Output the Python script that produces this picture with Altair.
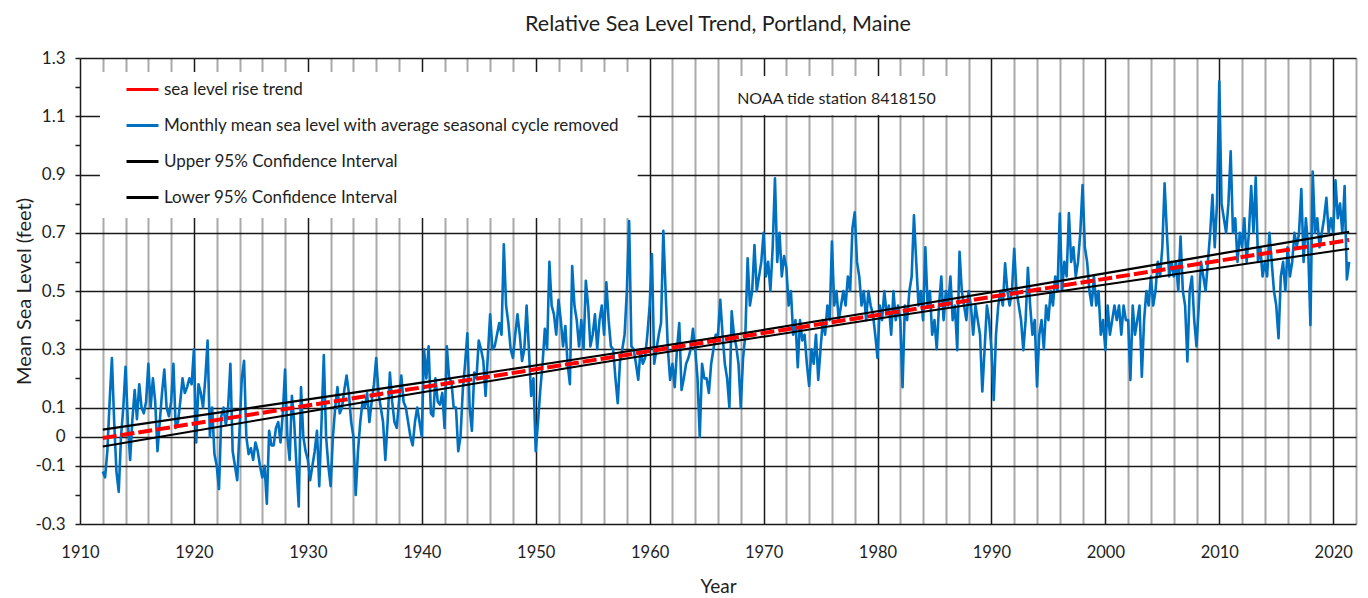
import altair as alt
import pandas as pd

# ---------------- data ----------------
# monthly mean sea level (seasonal cycle removed), sampled every 0.2 yr from 1912.0
level_1910s = [
    -0.12, -0.14, -0.05, 0.12, 0.27,
    0.05, -0.12, -0.19, 0.00, 0.10,
    0.24, 0.05, -0.08, 0.06, 0.16,
    0.06, 0.18, 0.10, 0.08, 0.12,
    0.25, 0.10, 0.20, 0.12, -0.05,
    0.05, 0.15, 0.23, 0.10, 0.07,
    0.12, 0.25, 0.03, 0.05, 0.12,
    0.20, 0.15, 0.17, 0.20, 0.18,
]
level_1920s = [
    0.30, -0.02, 0.18, 0.15, 0.10,
    0.20, 0.33, 0.00, 0.10, -0.06,
    -0.10, -0.18, 0.07, 0.10, 0.04,
    0.10, 0.25, -0.05, -0.10, -0.15,
    0.02, 0.20, 0.26, 0.00, -0.06,
    -0.04, -0.08, -0.02, -0.05, -0.10,
    -0.14, -0.10, -0.23, 0.02, -0.03,
    -0.03, 0.03, 0.05, -0.02, 0.08,
    0.23, 0.00, -0.08, 0.14, 0.05,
    -0.10, -0.24, 0.17, 0.00, -0.05,
]
level_1930s = [
    -0.08, -0.15, -0.10, -0.05, 0.02,
    -0.17, 0.05, 0.28, 0.00, -0.10,
    -0.17, 0.00, 0.10, 0.17, 0.08,
    0.10, 0.16, 0.21, 0.15, 0.05,
    0.00, -0.20, -0.05, 0.05, 0.12,
    0.10, 0.15, 0.05, 0.12, 0.18,
    0.27, 0.15, 0.10, 0.05, -0.08,
    0.05, 0.22, 0.12, 0.05, 0.03,
    0.12, 0.21, 0.12, 0.10, 0.05,
    0.00, -0.03, 0.05, 0.10, 0.05,
]
level_1940s = [
    0.00, 0.30, 0.20, 0.31, 0.08,
    0.07, 0.20, 0.12, 0.11, 0.15,
    0.03, 0.31, 0.20, 0.19, 0.10,
    0.10, -0.05, 0.00, 0.16, 0.25,
    0.355, 0.10, 0.02, 0.22, 0.20,
    0.33, 0.30, 0.26, 0.14, 0.28,
    0.42, 0.30, 0.31, 0.35, 0.39,
    0.35, 0.66, 0.45, 0.39, 0.30,
    0.27, 0.35, 0.42, 0.35, 0.26,
    0.30, 0.45, 0.30, 0.14, 0.20,
]
level_1950s = [
    -0.05, 0.05, 0.16, 0.25, 0.37,
    0.30, 0.60, 0.45, 0.42, 0.35,
    0.47, 0.40, 0.31, 0.38, 0.25,
    0.18, 0.586, 0.45, 0.40, 0.31,
    0.40, 0.30, 0.535, 0.45, 0.31,
    0.35, 0.42, 0.30, 0.40, 0.45,
    0.35, 0.53, 0.40, 0.31, 0.30,
    0.20, 0.115, 0.26, 0.30, 0.35,
    0.50, 0.74, 0.31, 0.30, 0.25,
    0.195, 0.30, 0.25, 0.27, 0.35,
]
level_1960s = [
    0.45, 0.627, 0.25, 0.30, 0.35,
    0.39, 0.707, 0.50, 0.30, 0.195,
    0.25, 0.17, 0.30, 0.39, 0.16,
    0.20, 0.25, 0.27, 0.30, 0.37,
    0.30, 0.20, 0.00, 0.25, 0.20,
    0.20, 0.15, 0.25, 0.30, 0.35,
    0.35, 0.47, 0.35, 0.25, 0.20,
    0.10, 0.43, 0.35, 0.31, 0.25,
    0.10, 0.27, 0.35, 0.612, 0.45,
    0.50, 0.658, 0.50, 0.55, 0.60,
]
level_1970s = [
    0.70, 0.55, 0.60, 0.50, 0.65,
    0.887, 0.60, 0.70, 0.55, 0.62,
    0.58, 0.45, 0.50, 0.35, 0.40,
    0.238, 0.40, 0.33, 0.35, 0.25,
    0.174, 0.30, 0.25, 0.35, 0.195,
    0.30, 0.40, 0.35, 0.45, 0.40,
    0.67, 0.45, 0.50, 0.40, 0.45,
    0.50, 0.45, 0.55, 0.50, 0.715,
    0.77, 0.60, 0.55, 0.45, 0.50,
    0.40, 0.50, 0.45, 0.42, 0.35,
]
level_1980s = [
    0.27, 0.45, 0.40, 0.50, 0.42,
    0.45, 0.35, 0.50, 0.40, 0.45,
    0.40, 0.17, 0.45, 0.40, 0.50,
    0.55, 0.76, 0.60, 0.45, 0.50,
    0.40, 0.65, 0.45, 0.50, 0.35,
    0.40, 0.30, 0.45, 0.55, 0.40,
    0.50, 0.45, 0.55, 0.40, 0.45,
    0.297, 0.635, 0.50, 0.45, 0.40,
    0.50, 0.45, 0.35, 0.45, 0.40,
    0.35, 0.155, 0.30, 0.45, 0.40,
]
level_1990s = [
    0.30, 0.126, 0.35, 0.45, 0.50,
    0.45, 0.595, 0.50, 0.45, 0.50,
    0.645, 0.50, 0.45, 0.40, 0.297,
    0.40, 0.58, 0.45, 0.35, 0.40,
    0.172, 0.35, 0.40, 0.30, 0.45,
    0.40, 0.50, 0.45, 0.55, 0.50,
    0.766, 0.50, 0.60, 0.55, 0.768,
    0.60, 0.65, 0.55, 0.60, 0.70,
    0.864, 0.65, 0.60, 0.50, 0.45,
    0.55, 0.45, 0.50, 0.35, 0.40,
]
level_2000s = [
    0.297, 0.45, 0.35, 0.40, 0.45,
    0.40, 0.45, 0.35, 0.45, 0.40,
    0.40, 0.195, 0.45, 0.35, 0.40,
    0.45, 0.206, 0.40, 0.50, 0.45,
    0.55, 0.45, 0.50, 0.60, 0.55,
    0.65, 0.87, 0.70, 0.55, 0.60,
    0.55, 0.60, 0.50, 0.687, 0.50,
    0.45, 0.258, 0.50, 0.55, 0.40,
    0.31, 0.45, 0.60, 0.55, 0.50,
    0.60, 0.70, 0.83, 0.65, 0.80,
]
level_2010s = [
    1.22, 0.80, 0.75, 0.70, 0.80,
    0.98, 0.70, 0.75, 0.60, 0.70,
    0.65, 0.75, 0.60, 0.70, 0.86,
    0.70, 0.89, 0.60, 0.65, 0.55,
    0.60, 0.55, 0.70, 0.60, 0.50,
    0.45, 0.338, 0.55, 0.60, 0.50,
    0.65, 0.55, 0.60, 0.70, 0.65,
    0.70, 0.85, 0.60, 0.75, 0.65,
    0.383, 0.91, 0.70, 0.75, 0.65,
    0.70, 0.75, 0.82, 0.70, 0.75,
]
level_2020s = [
    0.70, 0.88, 0.75, 0.80, 0.70,
    0.86, 0.54, 0.60,
]

# linear trend (end points) and 95% confidence bounds
trend_years = [1912.0, 2021.4]
trend_values = [-0.005, 0.675]
ci_years = [1912.0, 1925.7, 1939.4, 1953.1, 1966.7, 1980.4, 1994.1, 2007.8, 2021.4]
ci_upper = [0.024, 0.103, 0.182, 0.263, 0.345, 0.433, 0.522, 0.613, 0.703]
ci_lower = [-0.034, 0.057, 0.148, 0.237, 0.323, 0.407, 0.488, 0.567, 0.645]

series_names = [
    "sea level rise trend",
    "Monthly mean sea level with average seasonal cycle removed",
    "Upper 95% Confidence Interval",
    "Lower 95% Confidence Interval",
]
series_colors = ["#ff0000", "#0070c0", "#000000", "#000000"]

x_ticks = list(range(1910, 2023, 2))
y_ticks = [-0.3, -0.2, -0.1, 0, 0.1, 0.2, 0.3, 0.4, 0.5, 0.6, 0.7, 0.8, 0.9, 1.0, 1.1, 1.2, 1.3]

note_text = "NOAA tide station 8418150"
note_year, note_level = 1976.4, 1.159
# white panels behind the legend and the station note (data units)
panel_x = [1911.75, 1966.6]
panel_x2 = [1958.95, 1986.2]
panel_y = [0.751, 1.104]
panel_y2 = [1.252, 1.238]

# ---------------- build tables ----------------
monthly = (level_1910s + level_1920s + level_1930s + level_1940s + level_1950s
           + level_1960s + level_1970s + level_1980s + level_1990s + level_2000s
           + level_2010s + level_2020s)
monthly_years = [round(1912 + i / 5, 2) for i in range(len(monthly))]

df_blue = pd.DataFrame({"year": monthly_years, "value": monthly, "series": series_names[1]})
df_trend = pd.DataFrame({"year": trend_years, "value": trend_values, "series": series_names[0]})
df_up = pd.DataFrame({"year": ci_years, "value": ci_upper, "series": series_names[2]})
df_lo = pd.DataFrame({"year": ci_years, "value": ci_lower, "series": series_names[3]})
df_panels = pd.DataFrame({"x": panel_x, "x2": panel_x2, "y": panel_y, "y2": panel_y2})
df_note = pd.DataFrame({"year": [note_year], "value": [note_level], "text": [note_text]})

FONT = "Lato"
INK = "#1e1e1e"

x_scale = alt.Scale(domain=[1910, 2022], nice=False, zero=False)
y_scale = alt.Scale(domain=[-0.3, 1.3], nice=False, zero=False)

minor_test = "abs(round(datum.value * 10)) % 2 == 0 && datum.value != 0"

x_axis = alt.Axis(
    values=x_ticks,
    labelExpr="datum.value % 10 == 0 ? '' + datum.value : ''",
    labelFlush=False,
    grid=True,
    gridColor={"condition": {"test": "datum.value % 10 == 0", "value": "#1a1a1a"}, "value": "#a9a9a9"},
    gridWidth={"condition": {"test": "datum.value % 10 == 0", "value": 1.5}, "value": 2},
    ticks=False,
    tickSize=0,
    domain=False,
    labelFont=FONT,
    labelFontSize=16.5,
    labelColor=INK,
    labelPadding=20,
    labelOverlap=False,
    title="Year",
    titleFont=FONT,
    titleFontSize=19,
    titleFontWeight="normal",
    titleColor=INK,
    titleY=62,
    titleBaseline="middle",
)

y_axis = alt.Axis(
    values=y_ticks,
    labelExpr=f"({minor_test}) ? '' : '' + datum.value",
    labelFlush=False,
    grid=True,
    gridColor="#1a1a1a",
    gridWidth=1.5,
    gridOpacity={"condition": {"test": minor_test, "value": 0}, "value": 1},
    ticks=True,
    tickSize=5,
    tickColor=INK,
    tickWidth=1.5,
    domain=False,
    labelFont=FONT,
    labelFontSize=17,
    labelColor=INK,
    labelPadding=10,
    labelOverlap=False,
    title="Mean Sea Level (feet)",
    titleFont=FONT,
    titleFontSize=20,
    titleFontWeight="normal",
    titleColor=INK,
    titleX=-56,
    titleY=233,
    titleBaseline="middle",
)

color_scale = alt.Scale(domain=series_names, range=series_colors)
legend = alt.Legend(
    orient="none",
    legendX=45,
    legendY=14,
    title=None,
    symbolType="stroke",
    symbolSize=1024,
    symbolStrokeWidth=3,
    symbolDash=[1, 0],
    labelFont=FONT,
    labelFontSize=17,
    labelColor=INK,
    labelOffset=4,
    labelLimit=600,
    rowPadding=10,
    padding=0,
)

X = alt.X("year:Q", scale=x_scale, axis=x_axis)
Y = alt.Y("value:Q", scale=y_scale, axis=y_axis)
C = alt.Color("series:N", scale=color_scale, legend=legend)

panels = alt.Chart(df_panels).mark_rect(color="white").encode(
    x=alt.X("x:Q", scale=x_scale, axis=x_axis),
    x2="x2:Q",
    y=alt.Y("y:Q", scale=y_scale, axis=y_axis),
    y2="y2:Q",
)

blue = alt.Chart(df_blue).mark_line(strokeWidth=2.6, strokeJoin="round").encode(x=X, y=Y, color=C)
upper = alt.Chart(df_up).mark_line(strokeWidth=2.2).encode(x=X, y=Y, color=C)
lower = alt.Chart(df_lo).mark_line(strokeWidth=2).encode(x=X, y=Y, color=C)
trend = alt.Chart(df_trend).mark_line(strokeWidth=4, strokeDash=[14, 4]).encode(x=X, y=Y, color=C)

note = alt.Chart(df_note).mark_text(
    font=FONT, fontSize=16, color=INK, align="center", baseline="middle"
).encode(x=X, y=Y, text="text:N")

chart = (
    alt.layer(panels, blue, upper, lower, trend, note)
    .properties(
        width=1276,
        height=466,
        padding={"left": 72, "top": 50, "right": 4, "bottom": 72},
        autosize=alt.AutoSizeParams(type="none"),
        title=alt.TitleParams(
            "Relative Sea Level Trend, Portland, Maine",
            font=FONT,
            fontSize=21.5,
            fontWeight="normal",
            color=INK,
            anchor="middle",
            offset=14,
        ),
    )
    .configure_view(stroke="#1a1a1a", strokeWidth=1.5)
    .configure(background="white")
)

chart.save("out.html", embed_options={"renderer": "svg", "actions": False})
